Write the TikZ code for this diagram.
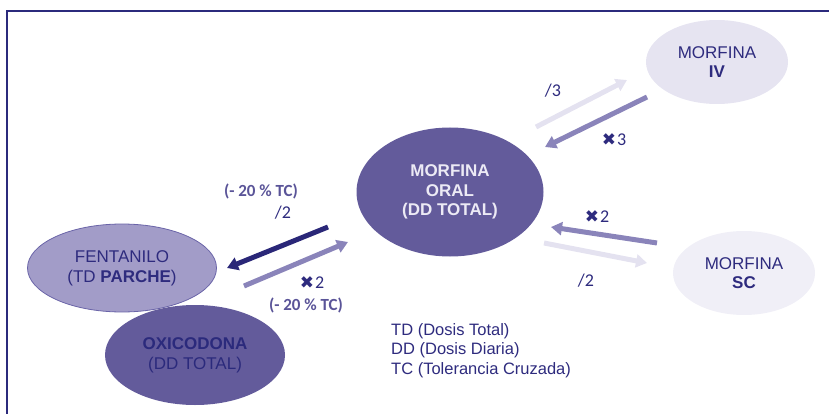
\documentclass[tikz,border=0pt]{standalone}
\usepackage{fontspec}
\setmainfont{Liberation Sans}
\newfontfamily\calfont{Carlito}
\newfontfamily\symfont{DejaVu Sans}
\usetikzlibrary{shapes.geometric,arrows.meta}
\definecolor{framenavy}{HTML}{2B2A7C}
\definecolor{textnavy}{HTML}{2E2B7E}
\definecolor{oralfill}{HTML}{635B9B}
\definecolor{ivfill}{HTML}{E6E4F1}
\definecolor{scfill}{HTML}{F0EFF7}
\definecolor{fentfill}{HTML}{A29CC8}
\definecolor{fentdraw}{HTML}{6A64A8}
\definecolor{arrowmid}{HTML}{8A84BA}
\definecolor{arrowlight}{HTML}{E4E2F0}
\definecolor{arrowdark}{HTML}{2A2778}
\definecolor{labelpurple}{HTML}{5A5498}
\definecolor{oraltext}{HTML}{ECEAF5}
\tikzset{
  drug/.style={ellipse, inner sep=0pt, align=center, text=textnavy,
    font=\fontsize{17}{20}\selectfont},
  conv/.style={line width=5pt, -{Triangle[length=11pt,width=13pt]}},
  lbl/.style={text=textnavy, font=\calfont\fontsize{18}{20}\selectfont, inner sep=0pt},
  pct/.style={text=labelpurple, font=\calfont\bfseries\fontsize{17}{19}\selectfont, inner sep=0pt},
}
\newcommand{\mulx}{{\symfont\fontsize{17}{18}\selectfont\char"2716}\kern1pt}
\begin{document}
\begin{tikzpicture}[x=1pt,y=-1pt]
\useasboundingbox (0,0) rectangle (829,414);
\draw[framenavy, line width=2.8pt] (7,414) -- (7,11) -- (829,11);

\node[drug, fill=ivfill, minimum width=142pt, minimum height=84pt] (iv) at (717,62)
  {MORFINA\\[-1pt]\textbf{IV}};
\node[drug, fill=scfill, minimum width=142pt, minimum height=84pt] (sc) at (744,273)
  {MORFINA\\[-1pt]\textbf{SC}};
\node[drug, fill=oralfill, text=oraltext, font=\bfseries\fontsize{17}{19.5}\selectfont,
  minimum width=187pt, minimum height=129pt] (oral) at (450,192)
  {MORFINA\\ORAL\\(DD TOTAL)};
\node[drug, fill=fentfill, draw=fentdraw, line width=0.8pt,
  minimum width=189pt, minimum height=88pt] (fent) at (122,268)
  {FENTANILO\\(TD \textbf{PARCHE})};
\node[drug, fill=oralfill, text=framenavy, minimum width=180pt, minimum height=100pt] (oxi) at (195,355)
  {\textbf{OXICODONA}\\(DD TOTAL)};

% arrow end points
\coordinate (a1s) at (536,127); \coordinate (a1e) at (627,80);
\coordinate (a2s) at (647,97);  \coordinate (a2e) at (545,147);
\coordinate (a3s) at (657,243); \coordinate (a3e) at (551,227);
\coordinate (a4s) at (544,243); \coordinate (a4e) at (647,263);
\coordinate (a5s) at (328,227); \coordinate (a5e) at (227,268);
\coordinate (a6s) at (244,286); \coordinate (a6e) at (348,242);

\draw[conv, arrowlight] (a1s) -- (a1e);
\draw[conv, arrowmid] (a2s) -- (a2e);
\draw[conv, arrowmid] (a3s) -- (a3e);
\draw[conv, arrowlight] (a4s) -- (a4e);
\draw[conv, arrowdark] (a5s) -- (a5e);
\draw[conv, arrowmid] (a6s) -- (a6e);

\node[lbl] (l1) at (553,91) {/3};
\node[lbl] (l2) at (614,140) {\mulx 3};
\node[lbl] (l3) at (597,217) {\mulx 2};
\node[lbl] (l4) at (586,281) {/2};
\node[pct] (l5) at (261,191) {(- 20 \% TC)};
\node[lbl] (l6) at (283,213) {/2};
\node[lbl] (l7) at (312,283) {\mulx 2};
\node[pct] (l8) at (306,305) {(- 20 \% TC)};

\node[anchor=north west, align=left, text=textnavy, inner sep=0pt,
  font=\fontsize{16.5}{19.5}\selectfont] (legend) at (391,323)
  {TD (Dosis Total)\\DD (Dosis Diaria)\\TC (Tolerancia Cruzada)};
\end{tikzpicture}
\end{document}
